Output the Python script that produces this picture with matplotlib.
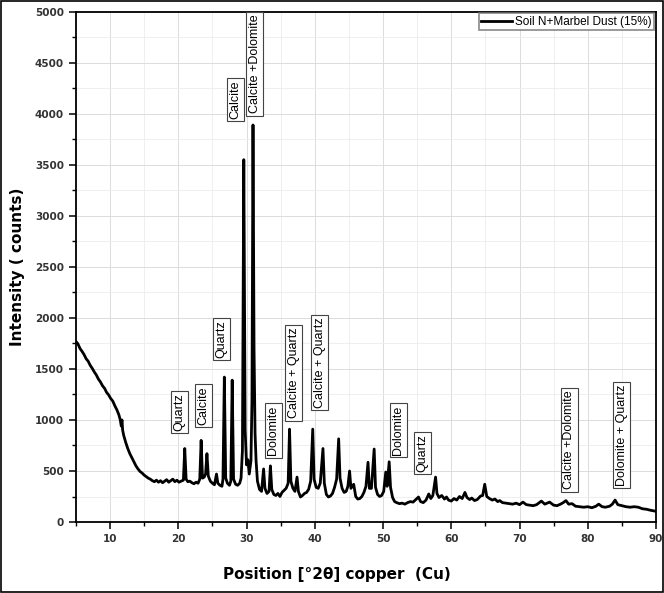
import matplotlib.pyplot as plt
from matplotlib.ticker import MultipleLocator
from matplotlib.patches import Rectangle

# XRD pattern (2-theta in degrees, intensity in counts)
two_theta = [
    5.0, 5.3, 5.6, 5.9, 6.2, 6.5, 6.8, 7.1, 7.4, 7.7, 8.0, 8.3, 8.6, 8.9, 9.2, 9.5, 9.8,
    10.1, 10.4, 10.7, 11.0, 11.3, 11.5, 11.65, 11.75, 11.85, 12.0, 12.3, 12.6, 12.9,
    13.2, 13.5, 13.8, 14.1, 14.4, 14.7, 15.0, 15.3, 15.6, 15.9, 16.2, 16.5, 16.8,
    17.1, 17.4, 17.7, 18.0, 18.3, 18.6, 18.9, 19.2, 19.5, 19.8, 20.1, 20.4, 20.75,
    20.95, 21.15, 21.4, 21.7, 22.0, 22.3, 22.6, 22.9, 23.15, 23.35, 23.55, 23.8,
    24.0, 24.2, 24.4, 24.7, 25.0, 25.3, 25.6, 25.8, 26.1, 26.4, 26.55, 26.75, 26.95,
    27.2, 27.5, 27.7, 27.9, 28.1, 28.4, 28.7, 29.0, 29.2, 29.4, 29.6, 29.8, 30.0,
    30.2, 30.4, 30.65, 30.8, 30.95, 31.1, 31.25, 31.4, 31.6, 31.9, 32.2, 32.5, 32.7,
    33.0, 33.3, 33.5, 33.7, 34.0, 34.3, 34.6, 34.9, 35.2, 35.5, 35.8, 36.1, 36.3,
    36.5, 36.8, 37.1, 37.4, 37.6, 37.9, 38.2, 38.5, 38.8, 39.1, 39.4, 39.7, 39.9,
    40.2, 40.5, 40.8, 41.2, 41.4, 41.7, 42.0, 42.3, 42.6, 42.9, 43.2, 43.5, 43.7,
    44.0, 44.3, 44.6, 44.85, 45.1, 45.3, 45.7, 46.0, 46.3, 46.6, 46.9, 47.2, 47.5,
    47.8, 48.0, 48.3, 48.7, 48.9, 49.2, 49.5, 49.8, 50.1, 50.4, 50.6, 50.9, 51.1,
    51.4, 51.7, 52.0, 52.4, 52.8, 53.2, 53.6, 54.0, 54.4, 54.8, 55.2, 55.5, 55.9,
    56.3, 56.7, 57.0, 57.3, 57.7, 57.9, 58.2, 58.6, 59.0, 59.3, 59.6, 60.0, 60.4,
    60.8, 61.2, 61.6, 62.0, 62.3, 62.7, 63.0, 63.4, 63.8, 64.3, 64.6, 64.9, 65.2,
    65.6, 66.0, 66.4, 66.8, 67.1, 67.5, 68.0, 68.5, 69.0, 69.5, 70.0, 70.5, 71.0,
    71.5, 72.0, 72.5, 73.2, 73.7, 74.4, 75.0, 75.5, 76.0, 76.4, 76.8, 77.2, 77.7,
    78.2, 78.8, 79.4, 80.0, 80.6, 81.2, 81.6, 82.1, 82.6, 83.2, 83.6, 84.0, 84.4,
    85.0, 85.6, 86.2, 86.8, 87.4, 88.0, 88.6, 89.2, 89.6, 90.0,
]
counts = [
    1770, 1745, 1700, 1672, 1640, 1600, 1575, 1535, 1505, 1470, 1440, 1400, 1372, 1335, 1310, 1270, 1245,
    1210, 1185, 1140, 1100, 1050, 1000, 940, 1000, 900, 850, 780, 720, 670,
    630, 590, 550, 520, 495, 480, 460, 445, 430, 420, 405, 395, 410,
    390, 405, 385, 400, 415, 390, 405, 420, 395, 410, 390, 400, 410,
    720, 420, 395, 400, 385, 375, 390, 380, 420, 800, 430, 440,
    470, 670, 450, 400, 380, 365, 470, 380, 360, 350, 420, 1420, 430,
    380, 360, 400, 1390, 420, 370, 360, 380, 430, 700, 3550, 900, 560,
    610, 470, 600, 1200, 3890, 1700, 870, 600, 400, 320, 300, 520, 330,
    280, 300, 550, 320, 270, 260, 280, 250, 290, 310, 330, 380, 910,
    400, 330, 300, 440, 300, 245, 260, 280, 290, 320, 400, 910, 420,
    340, 330, 380, 720, 380, 270, 245, 255, 280, 340, 420, 815, 430,
    330, 290, 300, 350, 500, 330, 370, 250, 225, 230, 250, 290, 350,
    585, 330, 330, 715, 340, 270, 250, 260, 300, 490, 350, 590, 340,
    240, 200, 190, 180, 185, 175, 190, 200, 195, 220, 245, 200, 190,
    215, 275, 230, 260, 440, 280, 240, 260, 225, 245, 215, 205, 230,
    215, 250, 230, 290, 240, 220, 235, 210, 220, 255, 260, 370, 250,
    230, 215, 225, 200, 210, 190, 185, 180, 175, 185, 170, 195, 170,
    165, 160, 170, 205, 175, 195, 165, 160, 175, 190, 210, 175, 180,
    155, 150, 145, 150, 140, 155, 175, 150, 145, 155, 175, 215, 170,
    160, 150, 145, 150, 145, 130, 125, 115, 110, 105,
]

# phase labels (boxed, rotated) and their centres in data units
phase_names = ["Quartz", "Calcite", "Quartz", "Calcite", "Calcite +Dolomite", "Dolomite",
               "Calcite + Quartz", "Calcite + Quartz", "Dolomite", "Quartz",
               "Calcite +Dolomite", "Dolomite + Quartz"]
phase_x = [20.2, 23.7, 26.3, 28.4, 31.2, 33.9, 36.9, 40.7, 52.2, 55.8, 77.3, 85.0]
phase_y = [1077, 1141, 1792, 4138, 4490, 896, 1459, 1562, 901, 676, 803, 852]

fig = plt.figure(figsize=(6.64, 5.93), dpi=100)
ax = fig.add_axes([0.1143, 0.1197, 0.8737, 0.8606])

ax.plot(two_theta, counts, color='black', lw=2.0, label='Soil N+Marbel Dust (15%)')

for name, px, py in zip(phase_names, phase_x, phase_y):
    ax.text(px, py, name, rotation=90, ha='center', va='center',
            family='Liberation Sans', fontsize=9,
            bbox=dict(boxstyle='square,pad=0.2', fc='white', ec='#444444', lw=0.8))

ax.set_xlim(5, 90)
ax.set_ylim(0, 5000)
ax.xaxis.set_major_locator(MultipleLocator(10))
ax.xaxis.set_minor_locator(MultipleLocator(5))
ax.yaxis.set_major_locator(MultipleLocator(500))
ax.yaxis.set_minor_locator(MultipleLocator(250))

ax.grid(True, which='major', color='#dcdcdc', lw=0.7)
ax.grid(True, which='minor', color='#ececec', lw=0.6)
ax.set_axisbelow(True)

ax.tick_params(which='major', direction='out', length=5, width=1.1, labelsize=7.5)
ax.tick_params(which='minor', direction='out', length=3, width=1.0)
for lab in ax.get_xticklabels() + ax.get_yticklabels():
    lab.set_fontweight('bold')
    lab.set_color('#333333')
for sp in ax.spines.values():
    sp.set_linewidth(1.3)

ax.set_xlabel('Position [°2θ] copper  (Cu)', fontsize=11, fontweight='bold')
ax.xaxis.set_label_coords(0.45, -0.088)
ax.set_ylabel('Intensity ( counts)', fontsize=11, fontweight='bold')
ax.yaxis.set_label_coords(-0.088, 0.5)

leg = ax.legend(loc='upper right', prop={'family': 'Liberation Sans', 'size': 8.5},
                fancybox=False, borderaxespad=0.15, borderpad=0.2, handlelength=2.6,
                handletextpad=0.3)
leg.get_frame().set_edgecolor('#777777')
leg.get_frame().set_linewidth(1.3)

# outer frame around whole figure
fig.patches.append(Rectangle((0.002, 0.002), 0.996, 0.996, transform=fig.transFigure,
                             fill=False, ec='black', lw=1.2))

fig.savefig('out.png', dpi=100)
